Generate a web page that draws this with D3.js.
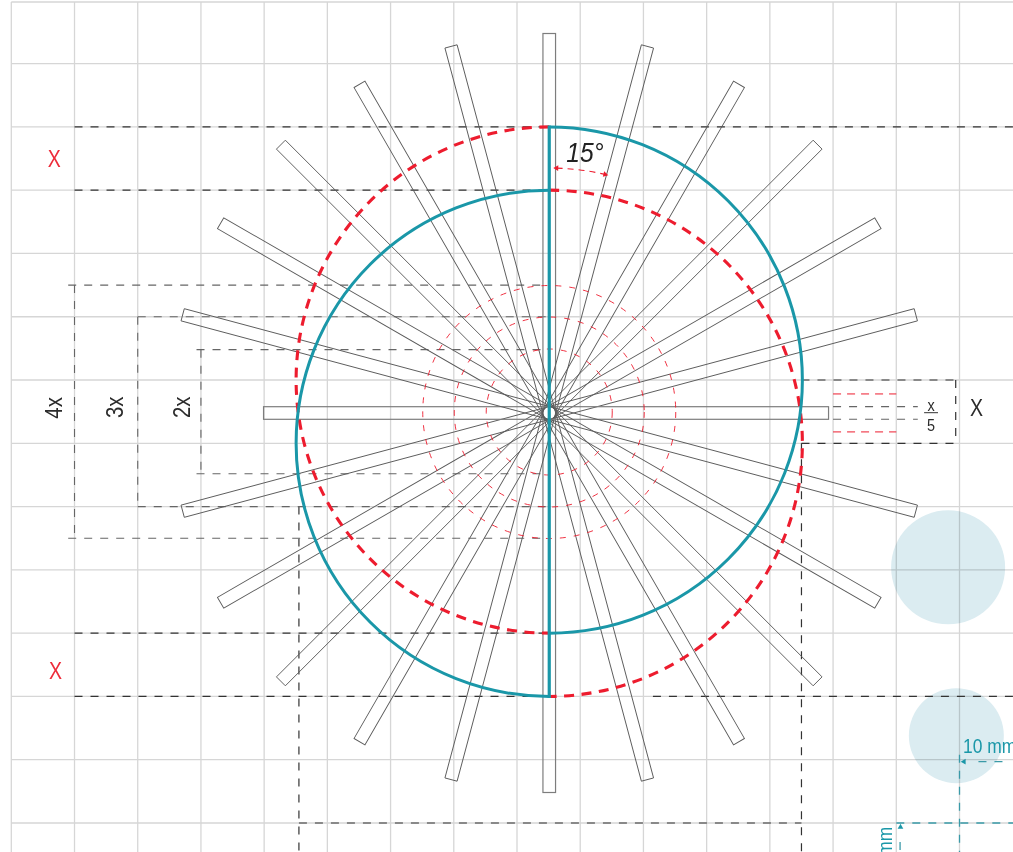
<!DOCTYPE html>
<html><head><meta charset="utf-8">
<style>html,body{margin:0;padding:0;background:#fff;overflow:hidden}svg{display:block}text{font-family:"Liberation Sans",Arial,sans-serif}</style>
<script src="https://cdn.jsdelivr.net/npm/d3@7"></script></head><body>
<script>
// grid indices
const gridCols = d3.range(0, 16);
const gridRows = d3.range(0, 14);
// spokes: angle in degrees, reach on either side of the hub
const spokeAngles = [0,15,30,45,60,75,90,105,120,135,150,165];
const spokeReachA = [379.5,379.5,379.5,379.5,379.5,379.5,279.3,379.5,379.5,379.5,379.5,379.5];
const spokeReachB = [379.5,379.5,379.5,379.5,379.5,379.5,285.7,379.5,379.5,379.5,379.5,379.5];
const spokeWidth = 12.6;
const guideRadii = [63, 95, 126.5];
// half circles in grid rows: centre row, side
const tealHalves = [{row:6, side:1},{row:7, side:-1}];
const redHalves  = [{row:6, side:-1},{row:7, side:1}];
const halfRadiusRows = 4;
// dashed guides: [colA,rowA,colB,rowB] in grid units
const blackDashes = [
 [1,2,8.51,2],[10.15,2,16.1,2],[1,3,8.51,3],[1,10,8.51,10],[1,11,8.51,11],[10.15,11,16.1,11],
 [4.55,8,4.55,13.5],[12.5,7,12.5,13.5],[4.55,13,12.5,13],
 [12.5,6,14.94,6],[14.94,6,14.94,7],[12.5,7,14.94,7]
];
const greyDashes = [
 [0.9,4.5,8.51,4.5],[1,4.5,1,8.5],[0.9,8.5,8.51,8.5],
 [2,5,8.51,5],[2,5,2,8],[2,8,8.51,8],
 [2.93,5.52,8.51,5.52],[3,5.52,3,7.48],[2.93,7.48,8.51,7.48],
 [13,6.42,14.34,6.42],[13,6.62,14.34,6.62]
];
const redDashes = [[13,6.22,14,6.22],[13,6.82,14,6.82]];
const tealDashes = [[15,11.92,15,13.5],[14,13,16.1,13],[15.3,12.03,15.75,12.03],[14.06,13.3,14.06,13.5]];
const paleDiscs = [{col:14.82,row:8.96,r:57},{col:14.95,row:11.62,r:47.5}];
const labels = [
 {t:"X",col:0.68,row:2.53,c:"#ed2c3a",s:23},
 {t:"X",col:0.7,row:10.63,c:"#ed2c3a",s:23},
 {t:"X",col:15.27,row:6.47,c:"#2b2b2b",s:23},
 {t:"x",col:14.55,row:6.42,c:"#2b2b2b",s:17},
 {t:"5",col:14.55,row:6.74,c:"#2b2b2b",s:17}
];
const sideLabels = [{t:"4x",col:0.797,row:6.44},{t:"3x",col:1.772,row:6.43},{t:"2x",col:2.827,row:6.43}];

const W=1013,H=852;
const x=d3.scaleLinear().domain([0,15]).range([11.3,959.5]);
const y=d3.scaleLinear().domain([0,1,13]).range([2,63.6,823]);
const hubX=x(8.51), hubY=413;
const TEAL="#1a97a8", RED="#ed1c2e", GRID="#d6d6d6", SQUEEZE=0.85;
const svg=d3.select("body").append("svg").attr("width",W).attr("height",H);

svg.append("g").selectAll("circle").data(paleDiscs).join("circle")
 .attr("cx",d=>x(d.col)).attr("cy",d=>y(d.row)).attr("r",d=>d.r).attr("fill","#dbecf1");

const grid=svg.append("g").attr("stroke",GRID).attr("stroke-width",1.3).style("mix-blend-mode","multiply");
grid.selectAll(".v").data(gridCols).join("line").attr("x1",d=>x(d)).attr("x2",d=>x(d)).attr("y1",y(0)).attr("y2",H);
grid.selectAll(".h").data(gridRows).join("line").attr("x1",x(0)).attr("x2",W).attr("y1",d=>y(d)).attr("y2",d=>y(d));

function dashes(data,color,w,arr){
 svg.append("g").selectAll("line").data(data).join("line")
  .attr("x1",d=>x(d[0])).attr("y1",d=>y(d[1])).attr("x2",d=>x(d[2])).attr("y2",d=>y(d[3]))
  .attr("stroke",color).attr("stroke-width",w).attr("stroke-dasharray",arr);
}
dashes(blackDashes,"#333",1.2,"8 8");
dashes(greyDashes,"#666",1.1,"8 8");
dashes(redDashes,RED,1,"8 6");
dashes(tealDashes,"#3a9aa8",1.3,"8 8");

// spokes
svg.append("g").attr("transform",`translate(${hubX},${hubY})`).selectAll("rect").data(spokeAngles).join("rect")
 .attr("x",-spokeWidth/2).attr("width",spokeWidth)
 .attr("y",(d,i)=>-spokeReachA[i]).attr("height",(d,i)=>spokeReachA[i]+spokeReachB[i])
 .attr("transform",d=>`rotate(${d})`)
 .attr("fill","none").attr("stroke",d=>d%90===0?"#7d7d7d":"#5a5a5a").attr("stroke-width",d=>d%90===0?1.2:0.9);

// small guide circles
svg.append("g").selectAll("circle").data(guideRadii).join("circle")
 .attr("cx",hubX).attr("cy",412).attr("r",d=>d).attr("fill","none")
 .attr("stroke",RED).attr("stroke-width",0.9).attr("stroke-dasharray","6 8");

// half circles
const R=y(6+halfRadiusRows)-y(6);
function half(d){
 const p=d3.path();
 p.arc(hubX,y(d.row),R,-Math.PI/2,Math.PI/2,d.side<0);
 return p.toString();
}
svg.append("g").selectAll("path").data(redHalves).join("path").attr("d",half).attr("fill","none")
 .attr("stroke",RED).attr("stroke-width",3.1).attr("stroke-dasharray","10 7.5");
svg.append("g").selectAll("path").data(tealHalves).join("path").attr("d",half).attr("fill","none")
 .attr("stroke",TEAL).attr("stroke-width",3);
svg.append("line").attr("x1",hubX).attr("x2",hubX).attr("y1",y(2)-1.5).attr("y2",y(11)+1.5).attr("stroke",TEAL).attr("stroke-width",3.2);

// labels
svg.append("g").selectAll("text").data(labels).join("text")
 .attr("transform",d=>`translate(${x(d.col)},${y(d.row)}) scale(${SQUEEZE},1)`)
 .attr("text-anchor","middle").attr("dominant-baseline","middle")
 .attr("fill",d=>d.c).attr("font-size",d=>d.s).text(d=>d.t);
svg.append("g").selectAll("text").data(sideLabels).join("text")
 .attr("transform",d=>`translate(${x(d.col)},${y(d.row)}) rotate(-90) scale(${SQUEEZE},1)`).attr("text-anchor","middle")
 .attr("fill","#2b2b2b").attr("font-size",24).text(d=>d.t);
svg.append("line").attr("x1",x(14.44)).attr("x2",x(14.66)).attr("y1",412.7).attr("y2",412.7).attr("stroke","#333").attr("stroke-width",1);
svg.append("text").attr("transform",`translate(585,161.7) scale(0.88,1)`).attr("text-anchor","middle").attr("font-size",28).attr("font-style","italic").attr("fill","#222").text("15°");

// 15 degree arc with arrow heads
const arcR=245, a0=-Math.PI/2+0.03, a1=-Math.PI/2+0.23;
const ap=d3.path(); ap.arc(hubX,hubY,arcR,a0,a1,false);
svg.append("path").attr("d",ap.toString()).attr("fill","none").attr("stroke",RED).attr("stroke-width",1.1).attr("stroke-dasharray","6 5");
const tri=d3.symbol().type(d3.symbolTriangle).size(14);
[[a0,-88],[a1,103]].forEach(([a,rot])=>{
 svg.append("path").attr("d",tri()).attr("fill",RED)
  .attr("transform",`translate(${hubX+arcR*Math.cos(a)},${hubY+arcR*Math.sin(a)}) rotate(${rot})`);
});

// teal annotation
svg.append("text").attr("transform","translate(963,753) scale(0.85,1)").attr("font-size",20.5).attr("fill",TEAL).text("10 mm");
svg.append("text").attr("transform","translate(892,880) rotate(-90) scale(0.85,1)").attr("font-size",20.5).attr("fill",TEAL).text("10 mm");
svg.append("path").attr("d",tri()).attr("fill",TEAL).attr("transform",`translate(964,761.7) rotate(-90)`);
svg.append("path").attr("d",tri()).attr("fill",TEAL).attr("transform",`translate(900.5,827) rotate(0)`);
</script></body></html>
